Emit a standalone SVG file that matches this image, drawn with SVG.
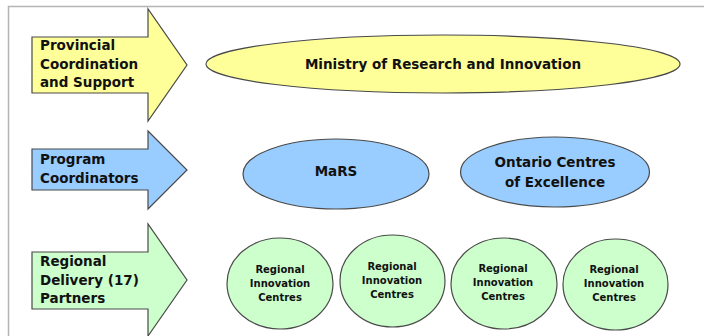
<svg xmlns="http://www.w3.org/2000/svg" width="704" height="336" viewBox="0 0 704 336">
<style>
  .shape { stroke: #4a4a4a; stroke-width: 1.2; }
  .yellow { fill: #FFFF99; }
  .blue { fill: #99CCFF; }
  .green { fill: #CCFFCC; }
  text { font-family: "DejaVu Sans", "Liberation Sans", sans-serif; font-weight: bold; fill: #111111; }
  .lbl { font-size: 13.5px; }
  .sm { font-size: 10px; text-anchor: middle; }
  .mid { text-anchor: middle; }
</style>
<rect width="704" height="336" fill="#ffffff"/>
<g id="frame" fill="none" stroke="#b4b4b4" stroke-width="1.5">
  <path d="M8.5 336 V6.5 H704"/>
</g>
<g id="connectors"/>
<g id="arrow-provincial">
  <path class="shape yellow" d="M32 37 H148 V9 L187 65 L148 121 V93 H32 Z"/>
  <text class="lbl" x="40" y="50">Provincial</text>
  <text class="lbl" x="40" y="69">Coordination</text>
  <text class="lbl" x="40" y="87">and Support</text>
</g>
<g id="arrow-program">
  <path class="shape blue" d="M32 149 H148 V131 L187 170 L148 209 V190 H32 Z"/>
  <text class="lbl" x="40" y="164">Program</text>
  <text class="lbl" x="40" y="183">Coordinators</text>
</g>
<g id="arrow-regional">
  <path class="shape green" d="M32 252 H148 V224 L187 280 L148 336 V309 H32 Z"/>
  <text class="lbl" x="40" y="266">Regional</text>
  <text class="lbl" x="40" y="285">Delivery (17)</text>
  <text class="lbl" x="40" y="303">Partners</text>
</g>
<g id="ministry">
  <ellipse class="shape yellow" cx="443" cy="64" rx="237" ry="29"/>
  <text class="lbl mid" x="443" y="69">Ministry of Research and Innovation</text>
</g>
<g id="mars">
  <ellipse class="shape blue" cx="336" cy="174" rx="93" ry="35"/>
  <text class="lbl mid" x="336" y="176">MaRS</text>
</g>
<g id="oce">
  <ellipse class="shape blue" cx="555" cy="172" rx="94.5" ry="35"/>
  <text class="lbl mid" x="555" y="167">Ontario Centres</text>
  <text class="lbl mid" x="555" y="187">of Excellence</text>
</g>
<g id="ric1">
  <ellipse class="shape green" cx="280" cy="283.5" rx="53" ry="45.5"/>
  <text class="sm" x="280" y="273">Regional</text>
  <text class="sm" x="280" y="287">Innovation</text>
  <text class="sm" x="280" y="301">Centres</text>
</g>
<g id="ric2">
  <ellipse class="shape green" cx="392.5" cy="281" rx="52.5" ry="46"/>
  <text class="sm" x="392" y="270">Regional</text>
  <text class="sm" x="392" y="284">Innovation</text>
  <text class="sm" x="392" y="298">Centres</text>
</g>
<g id="ric3">
  <ellipse class="shape green" cx="504" cy="283.5" rx="53" ry="45.5"/>
  <text class="sm" x="503" y="272">Regional</text>
  <text class="sm" x="503" y="286">Innovation</text>
  <text class="sm" x="503" y="300">Centres</text>
</g>
<g id="ric4">
  <ellipse class="shape green" cx="615.5" cy="284.5" rx="52.5" ry="45.5"/>
  <text class="sm" x="614" y="273">Regional</text>
  <text class="sm" x="614" y="287">Innovation</text>
  <text class="sm" x="614" y="301">Centres</text>
</g>
</svg>
